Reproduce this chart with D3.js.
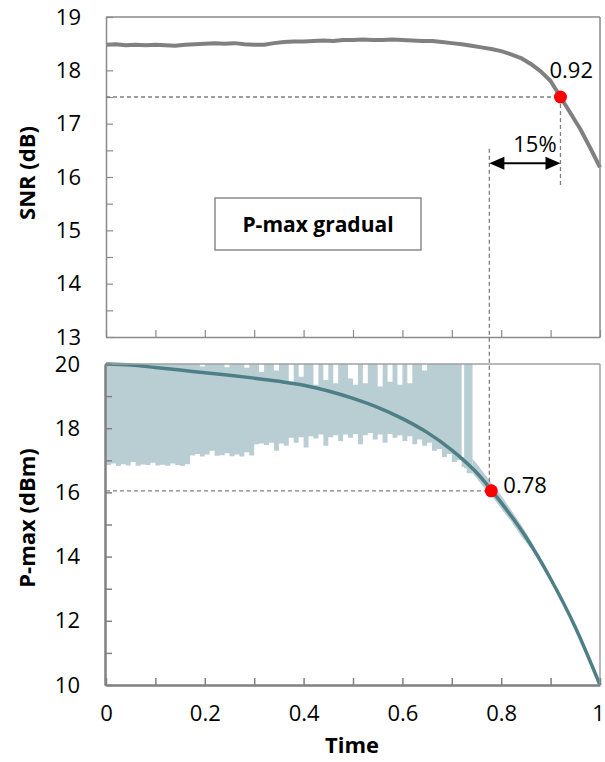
<!DOCTYPE html>
<html>
<head>
<meta charset="utf-8">
<script src="https://cdn.jsdelivr.net/npm/d3@7"></script>
<style>
  body { margin: 0; background: #fff; }
  svg text { font-family: "Open Sans", "Liberation Sans", sans-serif; fill: #000; }
</style>
</head>
<body>
<svg id="chart" width="605" height="762"></svg>
<script>
// SNR over time (step 0.02)
var snrTime = [0, 0.02, 0.04, 0.06, 0.08, 0.10, 0.12, 0.14, 0.16, 0.18, 0.20, 0.22, 0.24, 0.26, 0.28, 0.30,
  0.32, 0.34, 0.36, 0.38, 0.40, 0.42, 0.44, 0.46, 0.48, 0.50, 0.52, 0.54, 0.56, 0.58, 0.60, 0.62, 0.64,
  0.66, 0.68, 0.70, 0.72, 0.74, 0.76, 0.78, 0.80, 0.82, 0.84, 0.86, 0.88, 0.90, 0.92, 0.94, 0.96, 0.98, 1.0];
var snrValues = [18.48, 18.49, 18.47, 18.48, 18.47, 18.48, 18.47, 18.46, 18.48, 18.49, 18.50, 18.51, 18.50,
  18.51, 18.49, 18.48, 18.48, 18.51, 18.53, 18.54, 18.54, 18.55, 18.56, 18.55, 18.57, 18.57, 18.58, 18.57,
  18.57, 18.58, 18.57, 18.56, 18.55, 18.55, 18.53, 18.51, 18.49, 18.46, 18.43, 18.40, 18.36, 18.30, 18.23,
  18.12, 17.98, 17.80, 17.50, 17.20, 16.90, 16.55, 16.18];

// P-max setpoint curve (bottom panel)
var pmaxTime = [0, 0.05, 0.10, 0.15, 0.20, 0.25, 0.30, 0.35, 0.40, 0.45, 0.50, 0.55, 0.60, 0.65, 0.70,
  0.75, 0.80, 0.85, 0.90, 0.95, 1.0];
var pmaxValues = [20.00, 19.97, 19.89, 19.81, 19.73, 19.65, 19.56, 19.46, 19.34, 19.16, 18.93, 18.65, 18.30,
  17.87, 17.32, 16.62, 15.68, 14.61, 13.31, 11.80, 10.00];

// measured P-max spread (shaded band), step 0.01 from 0 to 0.74
var bandTime = [0, 0.01, 0.02, 0.03, 0.04, 0.05, 0.06, 0.07, 0.08, 0.09, 0.10, 0.11, 0.12, 0.13, 0.14,
  0.15, 0.16, 0.17, 0.18, 0.19, 0.20, 0.21, 0.22, 0.23, 0.24, 0.25, 0.26, 0.27, 0.28, 0.29, 0.30, 0.31,
  0.32, 0.33, 0.34, 0.35, 0.36, 0.37, 0.38, 0.39, 0.40, 0.41, 0.42, 0.43, 0.44, 0.45, 0.46, 0.47, 0.48,
  0.49, 0.50, 0.51, 0.52, 0.53, 0.54, 0.55, 0.56, 0.57, 0.58, 0.59, 0.60, 0.61, 0.62, 0.63, 0.64, 0.65,
  0.66, 0.67, 0.68, 0.69, 0.70, 0.71, 0.72, 0.725, 0.73, 0.742];
var bandLow = [16.85, 16.90, 16.82, 16.88, 16.84, 16.95, 16.83, 16.87, 16.85, 16.92, 16.84, 16.86, 16.83,
  16.90, 16.85, 16.82, 16.88, 17.15, 17.20, 17.12, 17.18, 17.30, 17.14, 17.16, 17.22, 17.13, 17.18, 17.12,
  17.25, 17.15, 17.50, 17.52, 17.48, 17.55, 17.30, 17.52, 17.45, 17.70, 17.55, 17.72, 17.40, 17.75, 17.68,
  17.80, 17.45, 17.72, 17.78, 17.60, 17.80, 17.70, 17.82, 17.50, 17.78, 17.85, 17.65, 17.80, 17.55, 17.82,
  17.70, 17.78, 17.60, 17.75, 17.50, 17.65, 17.45, 17.55, 17.30, 17.35, 17.10, 17.20, 16.95, 17.00, 16.80,
  16.75, 16.60, 16.60];
var bandHigh = [20, 20, 20, 20, 20, 20, 20, 20, 20, 20, 20, 20, 20, 20, 20, 20, 20, 20, 20, 19.92, 20, 20,
  20, 20, 19.90, 20, 20, 20, 19.88, 20, 20, 19.75, 20, 20, 19.80, 20, 20, 19.45, 20, 19.60,
  20, 20, 19.35, 20, 19.50, 20, 19.40, 20, 20, 19.55, 19.35, 20, 19.40, 20, 20, 19.30,
  20, 19.45, 20, 19.35, 20, 19.40, 20, 20, 19.80, 20, 20, 20, 20, 20, 20, 20, 17.10, 20, 20, 20];

// tail of the spread where it follows the curve
var tailTime = [0.742, 0.75, 0.76, 0.77, 0.78, 0.80, 0.82, 0.84, 0.86, 0.875];
var tailLow = [16.60, 16.45, 16.25, 16.05, 15.90, 15.50, 15.10, 14.65, 14.25, 13.95];
var tailHigh = [17.05, 16.90, 16.70, 16.50, 16.30, 15.90, 15.45, 15.00, 14.50, 14.05];

var snrTicks = [13, 14, 15, 16, 17, 18, 19];
var pmaxTicks = [10, 12, 14, 16, 18, 20];
var timeTicks = [0, 0.2, 0.4, 0.6, 0.8, 1];

// annotations
var snrMark = { t: 0.92, v: 17.5, label: "0.92" };
var pmaxMark = { t: 0.78, v: 16.05, label: "0.78" };
var marginLabel = "15%";
var gapStart = 0.776;

var svg = d3.select("#chart");

var x = d3.scaleLinear().domain([0, 1]).range([106, 600]);
var ySnr = d3.scaleLinear().domain([13, 19]).range([337, 17]);
var yP = d3.scaleLinear().domain([10, 20]).range([685, 364]);

var dashCol = "#7f7f7f";
var fs = "22px";

// ---------- bottom panel ----------
svg.append("clipPath").attr("id", "clipP")
  .append("rect").attr("x", 105).attr("y", 364).attr("width", 495).attr("height", 321);

var band = bandTime.map(function (t, i) { return [t, bandLow[i], bandHigh[i]]; });
var tail = tailTime.map(function (t, i) { return [t, tailLow[i], tailHigh[i]]; });
var area = d3.area()
  .x(function (d) { return x(d[0]); })
  .y0(function (d) { return yP(d[1]); })
  .y1(function (d) { return yP(d[2]); });

svg.append("path")
  .datum(band)
  .attr("d", area.curve(d3.curveStepAfter))
  .attr("fill", "#b9ced3")
  .attr("clip-path", "url(#clipP)");
svg.append("path")
  .datum(tail)
  .attr("d", area.curve(d3.curveLinear))
  .attr("fill", "#b9ced3")
  .attr("clip-path", "url(#clipP)");

var pLine = d3.line()
  .x(function (d, i) { return x(pmaxTime[i]); })
  .y(function (d) { return yP(d); })
  .curve(d3.curveMonotoneX);

svg.append("path")
  .datum(pmaxValues)
  .attr("d", pLine)
  .attr("fill", "none")
  .attr("stroke", "#4f7f86")
  .attr("stroke-width", 3.5);

// frame: thin top/right, thick left/bottom axis lines
svg.append("line").attr("x1", 105).attr("x2", 600).attr("y1", 364).attr("y2", 364)
  .attr("stroke", "#a0a0a0").attr("stroke-width", 1.5);
svg.append("line").attr("x1", 600).attr("x2", 600).attr("y1", 364).attr("y2", 685)
  .attr("stroke", "#a0a0a0").attr("stroke-width", 1.5);

var yAxisP = d3.axisLeft(yP).tickValues(d3.range(10, 20.5, 1))
  .tickSizeInner(-7).tickSizeOuter(0).tickPadding(25)
  .tickFormat(function (d) { return pmaxTicks.indexOf(d) >= 0 ? d : ""; });
var gyP = svg.append("g").attr("transform", "translate(105,0)").call(yAxisP);

var xAxisB = d3.axisBottom(x).tickValues(d3.range(0, 1.05, 0.1))
  .tickSizeInner(-7).tickSizeOuter(0).tickPadding(20)
  .tickFormat(function (d) {
    var r = Math.round(d * 10) / 10;
    return timeTicks.indexOf(r) >= 0 ? d3.format("~g")(r) : "";
  });
var gxB = svg.append("g").attr("transform", "translate(0,685)").call(xAxisB);

[gyP, gxB].forEach(function (g) {
  g.select(".domain").attr("stroke", "#808080").attr("stroke-width", 2.5);
  g.selectAll(".tick line").attr("stroke", "#808080").attr("stroke-width", 1.5);
  g.selectAll("text").style("font-size", fs).attr("fill", "#000");
});
// keep the last label ("1") inside the page
gxB.selectAll(".tick text").filter(function (d) { return d > 0.95; }).attr("dx", "-2");

// ---------- top panel ----------
var snrLine = d3.line()
  .x(function (d, i) { return x(snrTime[i]); })
  .y(function (d) { return ySnr(d); });

svg.append("path")
  .datum(snrValues)
  .attr("d", snrLine)
  .attr("fill", "none")
  .attr("stroke", "#808080")
  .attr("stroke-width", 4)
  .attr("stroke-linejoin", "round");

var yAxisS = d3.axisLeft(ySnr).tickValues(d3.range(13, 19.01, 0.5))
  .tickSizeInner(-7).tickSizeOuter(0).tickPadding(25)
  .tickFormat(function (d) { return snrTicks.indexOf(d) >= 0 ? d : ""; });
var gyS = svg.append("g").attr("transform", "translate(106,0)").call(yAxisS);

var xAxisT = d3.axisBottom(x).tickValues(d3.range(0, 1.05, 0.1))
  .tickSizeInner(-7).tickSizeOuter(0).tickFormat("");
var gxT = svg.append("g").attr("transform", "translate(0,337)").call(xAxisT);

[gyS, gxT].forEach(function (g) {
  g.select(".domain").attr("stroke", "#8a8a8a").attr("stroke-width", 1.5);
  g.selectAll(".tick line").attr("stroke", "#8a8a8a").attr("stroke-width", 1.2);
  g.selectAll("text").style("font-size", fs).attr("fill", "#000");
});

svg.append("line").attr("x1", 106).attr("x2", 600).attr("y1", 17).attr("y2", 17)
  .attr("stroke", "#8a8a8a").attr("stroke-width", 1.5);
svg.append("line").attr("x1", 600).attr("x2", 600).attr("y1", 17).attr("y2", 337)
  .attr("stroke", "#8a8a8a").attr("stroke-width", 1.5);

// ---------- annotations ----------
function dashed(x1, y1, x2, y2) {
  svg.append("line")
    .attr("x1", x1).attr("y1", y1).attr("x2", x2).attr("y2", y2)
    .attr("stroke", dashCol).attr("stroke-width", 1.3)
    .attr("stroke-dasharray", "4,3");
}

dashed(x(0), ySnr(snrMark.v), x(snrMark.t), ySnr(snrMark.v));
dashed(x(snrMark.t), ySnr(snrMark.v), x(snrMark.t), ySnr(15.81));
dashed(x(0), yP(pmaxMark.v), x(pmaxMark.t), yP(pmaxMark.v));
dashed(x(gapStart), ySnr(16.53), x(gapStart), yP(pmaxMark.v));

// double headed arrow for the 15% margin
var ay = ySnr(16.26);
var ax1 = x(gapStart), ax2 = x(snrMark.t);
svg.append("line").attr("x1", ax1 + 12).attr("x2", ax2 - 12).attr("y1", ay).attr("y2", ay)
  .attr("stroke", "#000").attr("stroke-width", 2);
svg.append("path")
  .attr("d", "M" + ax1 + "," + ay + " L" + (ax1 + 15) + "," + (ay - 6.5) + " L" + (ax1 + 15) + "," + (ay + 6.5) + "Z")
  .attr("fill", "#000");
svg.append("path")
  .attr("d", "M" + ax2 + "," + ay + " L" + (ax2 - 15) + "," + (ay - 6.5) + " L" + (ax2 - 15) + "," + (ay + 6.5) + "Z")
  .attr("fill", "#000");

svg.append("text").attr("x", (ax1 + ax2) / 2 + 10).attr("y", ay - 11)
  .attr("text-anchor", "middle").style("font-size", fs).text(marginLabel);

svg.append("circle").attr("cx", x(snrMark.t)).attr("cy", ySnr(snrMark.v)).attr("r", 6.5).attr("fill", "#ff0000");
svg.append("circle").attr("cx", x(pmaxMark.t)).attr("cy", yP(pmaxMark.v)).attr("r", 6.5).attr("fill", "#ff0000");

svg.append("text").attr("x", x(snrMark.t) - 11).attr("y", ySnr(snrMark.v) - 19)
  .style("font-size", fs).text(snrMark.label);
svg.append("text").attr("x", x(pmaxMark.t) + 12).attr("y", yP(pmaxMark.v) + 2)
  .style("font-size", fs).text(pmaxMark.label);

// title box
svg.append("rect").attr("x", 215).attr("y", 198).attr("width", 206).attr("height", 52)
  .attr("fill", "#fff").attr("stroke", "#8a8a8a").attr("stroke-width", 1.5);
svg.append("text").attr("x", 318).attr("y", 232).attr("text-anchor", "middle")
  .style("font-size", "21px").style("font-weight", "bold").text("P-max gradual");

// axis titles
svg.append("text").attr("transform", "translate(35,173) rotate(-90)")
  .attr("text-anchor", "middle").style("font-size", "22px").style("font-weight", "bold")
  .text("SNR (dB)");
svg.append("text").attr("transform", "translate(35,518) rotate(-90)")
  .attr("text-anchor", "middle").style("font-size", "22px").style("font-weight", "bold")
  .text("P-max (dBm)");
svg.append("text").attr("x", 352).attr("y", 753).attr("text-anchor", "middle")
  .style("font-size", "22px").style("font-weight", "bold").text("Time");
</script>
</body>
</html>
